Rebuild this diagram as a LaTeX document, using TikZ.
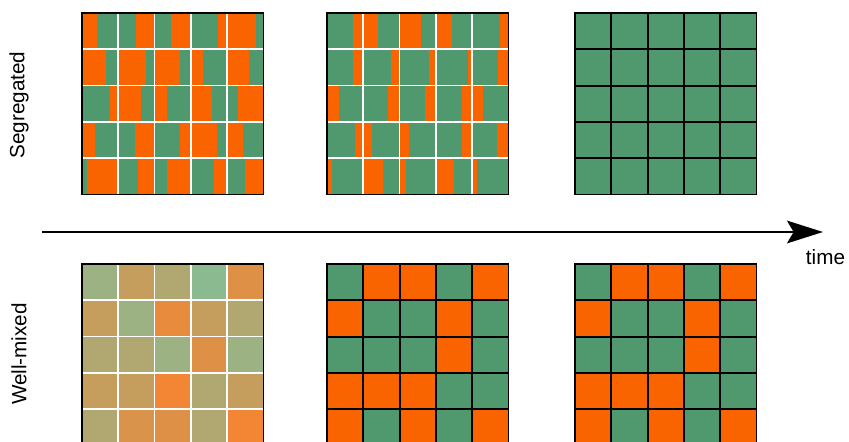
\documentclass[tikz,border=0pt]{standalone}
\usepackage{fontspec}
\setmainfont{Liberation Sans}
\usetikzlibrary{arrows.meta}
\definecolor{grn}{HTML}{50986E}
\definecolor{orng}{HTML}{FA6400}
\definecolor{mixg}{RGB}{140,186,144}
\definecolor{mixo}{RGB}{243,134,52}
\tikzset{wline/.style={draw=white,line width=1.3pt}, bline/.style={draw=black,line width=1.5pt},frame/.style={draw=black,line width=1.2pt},lab/.style={font=\fontsize{15.5}{18}\selectfont,inner sep=0pt},timearr/.style={-{Stealth[length=27pt,width=17pt,inset=5pt]},line width=1.6pt}}
\newcommand\cellsz{36.3}
\newcommand\gridlines[3]{\foreach \i in {1,...,4}{\draw[#3]({#1+\i*\cellsz},#2)--++(0,{5*\cellsz});\draw[#3](#1,{#2+\i*\cellsz})--++({5*\cellsz},0);}\draw[frame](#1,#2)rectangle++({5*\cellsz},{5*\cellsz});}
\newcommand\splitgrid[3]{\foreach \lc/\rc/\fr[count=\idx from 0]in{#3}{\pgfmathtruncatemacro\cx{mod(\idx,5)}\pgfmathtruncatemacro\cy{\idx/5}%
\fill[\lc]({#1+\cx*\cellsz},{#2+\cy*\cellsz})rectangle++({\fr*\cellsz},\cellsz);\fill[\rc]({#1+(\cx+\fr)*\cellsz},{#2+\cy*\cellsz})rectangle({#1+(\cx+1)*\cellsz},{#2+(\cy+1)*\cellsz});}\gridlines{#1}{#2}{wline}}
\newcommand\plaingrid[4]{\foreach \cc[count=\idx from 0]in{#4}{\pgfmathtruncatemacro\cx{mod(\idx,5)}\pgfmathtruncatemacro\cy{\idx/5}%
\fill[\cc]({#1+\cx*\cellsz},{#2+\cy*\cellsz})rectangle++(\cellsz,\cellsz);}\gridlines{#1}{#2}{#3}}

\begin{document}
\begin{tikzpicture}[x=0.75pt,y=-0.75pt]
\useasboundingbox(0,0)rectangle(849,442);\clip(0,0)rectangle(849,442);
\splitgrid{82}{13}{orng/grn/.40,grn/orng/.50,grn/orng/.45,grn/orng/.75,orng/grn/.80,
orng/grn/.65,orng/grn/.75,orng/grn/.70,orng/grn/.33,orng/grn/.60,
grn/orng/.77,orng/grn/.62,orng/grn/.35,orng/grn/.58,grn/orng/.30,
orng/grn/.37,grn/orng/.47,grn/orng/.70,orng/grn/.72,orng/grn/.43,
grn/orng/.14,grn/orng/.55,grn/orng/.33,grn/orng/.65,grn/orng/.50}
\splitgrid{327}{13}{grn/orng/.72,orng/grn/.40,orng/grn/.58,orng/grn/.45,grn/orng/.77,
grn/orng/.72,grn/orng/.77,grn/orng/.80,grn/orng/.88,grn/orng/.72,
orng/grn/.33,grn/orng/.67,grn/orng/.70,grn/orng/.73,orng/grn/.30,
grn/orng/.78,orng/grn/.25,orng/grn/.25,grn/orng/.72,grn/orng/.68,
orng/grn/.15,orng/grn/.55,orng/grn/.18,orng/grn/.50,orng/grn/.14}
\plaingrid{575}{13}{bline}{grn,grn,grn,grn,grn,grn,grn,grn,grn,grn,grn,grn,grn,grn,grn,grn,grn,grn,grn,grn,grn,grn,grn,grn,grn}
\plaingrid{82}{264}{wline}{mixo!15!mixg,mixo!55!mixg,mixo!35!mixg,mixg,mixo!80!mixg,
mixo!55!mixg,mixo!15!mixg,mixo!90!mixg,mixo!55!mixg,mixo!35!mixg,
mixo!35!mixg,mixo!35!mixg,mixo!15!mixg,mixo!80!mixg,mixo!15!mixg,
mixo!55!mixg,mixo!55!mixg,mixo,mixo!35!mixg,mixo!55!mixg,
mixo!35!mixg,mixo!75!mixg,mixo!80!mixg,mixo!35!mixg,mixo}
\plaingrid{327}{264}{bline}{grn,orng,orng,grn,orng,orng,grn,grn,orng,grn,grn,grn,grn,orng,grn,orng,orng,orng,grn,grn,orng,grn,orng,grn,orng}
\plaingrid{575}{264}{bline}{grn,orng,orng,grn,orng,orng,grn,grn,orng,grn,grn,grn,grn,orng,grn,orng,orng,orng,grn,grn,orng,grn,orng,grn,orng}
\coordinate(tstart)at(42,232);\coordinate(tend)at(823,232);
\draw[timearr](tstart)--(tend);
\node[lab](tlab)at(825.5,257){time};
\node[lab,rotate=90](seg)at(19,105){Segregated};\node[lab,rotate=90](mixed)at(19,354){Well-mixed};
\end{tikzpicture}
\end{document}
